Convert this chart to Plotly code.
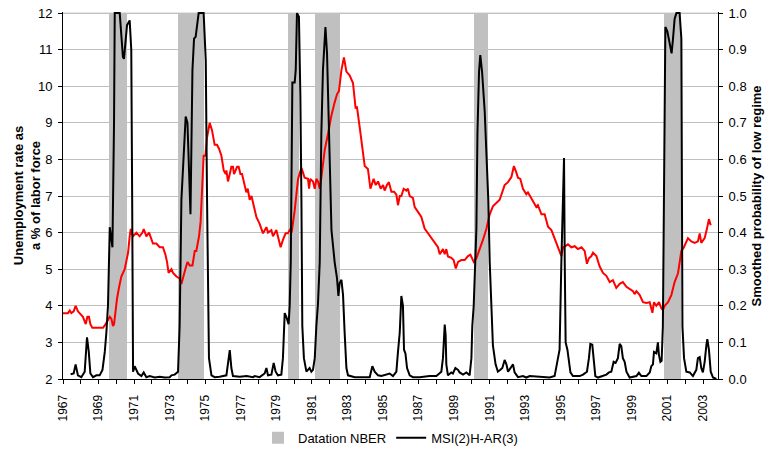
import plotly.graph_objects as go

# ---- data (x = position on the year axis) ----
unemp_year = [1967.00, 1967.28, 1967.38, 1967.47, 1967.60, 1967.71, 1967.84, 1967.94, 1968.03, 1968.12,
              1968.28, 1968.37, 1968.46, 1968.54, 1968.65, 1969.25, 1969.40, 1969.63, 1969.72, 1969.81,
              1969.87, 1969.96, 1970.04, 1970.15, 1970.28, 1970.47, 1970.57, 1970.66, 1970.75, 1970.81,
              1970.94, 1971.13, 1971.31, 1971.47, 1971.54, 1971.69, 1971.84, 1971.97, 1972.06, 1972.25,
              1972.44, 1972.62, 1972.76, 1972.85, 1972.94, 1973.10, 1973.19, 1973.38, 1973.56, 1973.66,
              1973.75, 1973.88, 1974.00, 1974.13, 1974.28, 1974.41, 1974.50, 1974.65, 1974.74, 1974.80,
              1974.91, 1975.01, 1975.10, 1975.25, 1975.38, 1975.53, 1975.66, 1975.77, 1975.91, 1976.04,
              1976.15, 1976.19, 1976.28, 1976.38, 1976.47, 1976.56, 1976.62, 1976.71, 1976.79, 1976.88,
              1976.98, 1977.07, 1977.16, 1977.31, 1977.39, 1977.50, 1977.60, 1977.88, 1978.06, 1978.25,
              1978.44, 1978.53, 1978.72, 1978.81, 1979.00, 1979.24, 1979.37, 1979.52, 1979.65, 1979.75,
              1979.86, 1980.03, 1980.22, 1980.41, 1980.50, 1980.59, 1980.78, 1980.84, 1980.91, 1981.06,
              1981.16, 1981.25, 1981.34, 1981.44, 1981.53, 1981.72, 1981.90, 1982.10, 1982.28, 1982.41,
              1982.52, 1982.66, 1982.80, 1982.94, 1983.12, 1983.31, 1983.46, 1983.53, 1983.69, 1983.87,
              1983.97, 1984.15, 1984.29, 1984.47, 1984.59, 1984.72, 1984.87, 1985.00, 1985.09, 1985.22,
              1985.33, 1985.47, 1985.62, 1985.75, 1985.84, 1985.94, 1986.03, 1986.16, 1986.31, 1986.40,
              1986.50, 1986.68, 1986.78, 1987.06, 1987.16, 1987.34, 1987.53, 1987.72, 1987.90, 1988.09,
              1988.19, 1988.37, 1988.47, 1988.56, 1988.65, 1988.84, 1988.97, 1989.09, 1989.22, 1989.41,
              1989.59, 1989.78, 1989.91, 1990.10, 1990.25, 1990.44, 1990.62, 1990.81, 1991.00, 1991.18,
              1991.37, 1991.56, 1991.84, 1992.03, 1992.22, 1992.36, 1992.50, 1992.59, 1992.72, 1992.87,
              1993.06, 1993.15, 1993.34, 1993.43, 1993.62, 1993.71, 1993.91, 1994.09, 1994.28, 1994.47,
              1994.65, 1994.84, 1995.03, 1995.12, 1995.40, 1995.59, 1995.78, 1995.96, 1996.16, 1996.34,
              1996.47, 1996.58, 1996.72, 1996.81, 1997.00, 1997.18, 1997.37, 1997.56, 1997.75, 1997.93,
              1998.12, 1998.31, 1998.49, 1998.69, 1998.87, 1999.06, 1999.15, 1999.25, 1999.43, 1999.62,
              1999.81, 2000.00, 2000.15, 2000.24, 2000.37, 2000.52, 2000.65, 2000.74, 2000.84, 2001.03,
              2001.22, 2001.40, 2001.59, 2001.78, 2001.91, 2002.06, 2002.15, 2002.34, 2002.53, 2002.71,
              2002.81, 2002.90, 2003.09, 2003.22, 2003.33, 2003.43]
unemp_rate = [3.8, 3.8, 3.87, 3.8, 3.85, 4.0, 3.85, 3.8, 3.75, 3.7,
              3.5, 3.7, 3.7, 3.5, 3.4, 3.4, 3.5, 3.7, 3.65, 3.45,
              3.5, 3.9, 4.2, 4.5, 4.8, 5.0, 5.2, 5.45, 5.9, 6.1,
              5.9, 6.0, 5.9, 6.0, 6.1, 5.9, 6.0, 5.8, 5.7, 5.7,
              5.6, 5.6, 5.4, 5.2, 4.9, 5.0, 4.9, 4.8, 4.75, 4.6,
              4.8, 5.0, 5.2, 5.1, 5.1, 5.5, 5.5, 5.9, 6.3, 7.0,
              8.1, 8.1, 8.6, 9.0, 8.8, 8.4, 8.4, 8.3, 8.1, 7.7,
              7.6, 7.7, 7.4, 7.6, 7.8, 7.8, 7.6, 7.7, 7.8, 7.8,
              7.6, 7.6, 7.4, 7.1, 7.2, 6.9, 7.0, 6.42, 6.24, 5.98,
              6.15, 6.0, 6.07, 5.9, 6.07, 5.6, 5.8, 5.98, 5.98, 6.07,
              6.0, 6.6, 7.47, 7.77, 7.64, 7.5, 7.47, 7.2, 7.47, 7.4,
              7.2, 7.47, 7.4, 7.2, 7.5, 8.26, 8.69, 9.21, 9.56, 9.78,
              9.87, 10.44, 10.79, 10.4, 10.3, 10.09, 9.39, 9.45, 8.87, 8.26,
              7.82, 7.74, 7.2, 7.47, 7.3, 7.4, 7.2, 7.3, 7.15, 7.3,
              7.38, 7.12, 7.12, 7.04, 6.75, 7.0, 7.0, 7.2, 7.15, 7.2,
              7.0, 6.95, 6.7, 6.5, 6.42, 6.11, 5.98, 5.85, 5.72, 5.6,
              5.41, 5.55, 5.41, 5.55, 5.35, 5.31, 5.25, 5.02, 5.2, 5.25,
              5.25, 5.36, 5.4, 5.2, 5.3, 5.55, 5.8, 6.1, 6.5, 6.72,
              6.8, 6.9, 7.3, 7.38, 7.52, 7.82, 7.64, 7.5, 7.47, 7.2,
              7.05, 7.1, 6.94, 6.85, 6.7, 6.75, 6.5, 6.5, 6.16, 6.07,
              5.85, 5.59, 5.36, 5.59, 5.68, 5.6, 5.63, 5.55, 5.6, 5.5,
              5.15, 5.3, 5.36, 5.45, 5.36, 5.08, 4.9, 4.82, 4.65, 4.7,
              4.49, 4.6, 4.65, 4.52, 4.45, 4.4, 4.32, 4.4, 4.3, 4.1,
              4.08, 4.1, 3.81, 4.1, 4.0, 4.1, 3.94, 3.88, 4.0, 4.1,
              4.3, 4.65, 4.89, 5.5, 5.59, 5.76, 5.85, 5.76, 5.72, 5.76,
              5.98, 5.72, 5.85, 6.11, 6.37, 6.2]

prob_year = [1967.43, 1967.60, 1967.71, 1967.84, 1968.03, 1968.22, 1968.35, 1968.45, 1968.54, 1968.69,
             1968.88, 1969.06, 1969.22, 1969.35, 1969.44, 1969.53, 1969.63, 1969.72, 1969.78, 1969.87,
             1969.91, 1970.19, 1970.37, 1970.43, 1970.60, 1970.75, 1970.84, 1970.89, 1970.94, 1971.03,
             1971.22, 1971.41, 1971.54, 1971.69, 1971.88, 1972.16, 1972.44, 1972.72, 1973.00, 1973.10,
             1973.28, 1973.47, 1973.56, 1973.66, 1973.84, 1973.90, 1974.00, 1974.09, 1974.17, 1974.28,
             1974.37, 1974.46, 1974.54, 1974.63, 1974.91, 1975.03, 1975.10, 1975.21, 1975.35, 1975.53,
             1975.81, 1976.19, 1976.38, 1976.47, 1976.56, 1976.94, 1977.33, 1977.69, 1977.78, 1978.06,
             1978.34, 1978.44, 1978.53, 1978.72, 1978.85, 1978.96, 1979.09, 1979.28, 1979.37, 1979.47,
             1979.56, 1979.69, 1979.75, 1979.81, 1979.90, 1980.03, 1980.09, 1980.16, 1980.27, 1980.35,
             1980.41, 1980.46, 1980.55, 1980.69, 1980.87, 1980.97, 1981.06, 1981.16, 1981.25, 1981.34,
             1981.44, 1981.53, 1981.62, 1981.76, 1981.85, 1981.94, 1982.04, 1982.10, 1982.28, 1982.41,
             1982.49, 1982.56, 1982.66, 1982.75, 1982.84, 1982.94, 1983.03, 1983.41, 1984.25, 1984.40,
             1984.53, 1984.72, 1984.91, 1985.19, 1985.37, 1985.56, 1985.75, 1985.84, 1985.94, 1986.03,
             1986.12, 1986.18, 1986.26, 1986.35, 1986.50, 1986.68, 1987.06, 1987.62, 1988.00, 1988.28,
             1988.37, 1988.47, 1988.52, 1988.56, 1988.65, 1988.84, 1988.93, 1989.07, 1989.22, 1989.31,
             1989.50, 1989.69, 1989.87, 1989.97, 1990.02, 1990.10, 1990.17, 1990.25, 1990.31, 1990.40,
             1990.47, 1990.57, 1990.72, 1990.85, 1990.92, 1991.00, 1991.09, 1991.18, 1991.33, 1991.46,
             1991.60, 1991.71, 1991.84, 1991.94, 1992.03, 1992.22, 1992.31, 1992.40, 1992.59, 1992.87,
             1993.06, 1993.25, 1993.81, 1994.37, 1994.65, 1994.84, 1994.93, 1995.03, 1995.18, 1995.22,
             1995.27, 1995.37, 1995.46, 1995.54, 1995.68, 1996.06, 1996.25, 1996.47, 1996.58, 1996.66,
             1996.77, 1996.86, 1996.94, 1997.09, 1997.37, 1997.56, 1997.71, 1997.84, 1997.97, 1998.08,
             1998.21, 1998.31, 1998.40, 1998.49, 1998.59, 1998.69, 1998.87, 1999.25, 1999.39, 1999.53,
             1999.81, 2000.00, 2000.09, 2000.18, 2000.24, 2000.37, 2000.46, 2000.52, 2000.60, 2000.67,
             2000.74, 2000.84, 2000.88, 2000.99, 2001.12, 2001.23, 2001.31, 2001.40, 2001.50, 2001.68,
             2001.78, 2001.84, 2001.93, 2002.06, 2002.25, 2002.43, 2002.62, 2002.71, 2002.81, 2002.90,
             2002.99, 2003.09, 2003.19, 2003.24, 2003.33, 2003.43, 2003.56, 2003.75]
prob_low = [0.013, 0.015, 0.04, 0.01, 0.005, 0.02, 0.114, 0.074, 0.015, 0.005,
            0.01, 0.01, 0.025, 0.074, 0.127, 0.2, 0.415, 0.37, 0.36, 0.7,
            1.0, 1.0, 0.88, 0.875, 0.967, 0.98, 0.9, 0.5, 0.02, 0.035,
            0.015, 0.008, 0.018, 0.005, 0.008, 0.004, 0.006, 0.004, 0.005, 0.01,
            0.012, 0.02, 0.145, 0.49, 0.695, 0.717, 0.70, 0.58, 0.45, 0.844,
            0.93, 0.935, 0.97, 1.0, 1.0, 0.87, 0.5, 0.057, 0.01, 0.005,
            0.006, 0.01, 0.079, 0.03, 0.008, 0.006, 0.008, 0.005, 0.008, 0.005,
            0.015, 0.03, 0.01, 0.012, 0.044, 0.02, 0.01, 0.012, 0.057, 0.18,
            0.17, 0.15, 0.2, 0.32, 0.81, 0.81, 0.844, 1.0, 0.99, 0.774,
            0.49, 0.145, 0.057, 0.02, 0.03, 0.02, 0.025, 0.057, 0.145, 0.205,
            0.32, 0.67, 0.844, 0.962, 0.89, 0.713, 0.49, 0.407, 0.319, 0.276,
            0.227, 0.262, 0.271, 0.23, 0.127, 0.03, 0.01, 0.005, 0.005, 0.035,
            0.02, 0.01, 0.008, 0.012, 0.015, 0.008, 0.02, 0.074, 0.127, 0.227,
            0.2, 0.08, 0.07, 0.03, 0.01, 0.005, 0.005, 0.008, 0.008, 0.02,
            0.057, 0.149, 0.12, 0.04, 0.01, 0.018, 0.015, 0.03, 0.025, 0.018,
            0.012, 0.018, 0.01, 0.057, 0.145, 0.2, 0.32, 0.41, 0.67, 0.84,
            0.885, 0.84, 0.73, 0.58, 0.49, 0.32, 0.188, 0.092, 0.04, 0.02,
            0.025, 0.03, 0.052, 0.04, 0.02, 0.035, 0.04, 0.018, 0.005, 0.008,
            0.004, 0.008, 0.006, 0.004, 0.008, 0.057, 0.08, 0.32, 0.604, 0.32,
            0.10, 0.08, 0.047, 0.018, 0.008, 0.008, 0.012, 0.02, 0.057, 0.096,
            0.094, 0.057, 0.008, 0.004, 0.008, 0.012, 0.018, 0.02, 0.047, 0.044,
            0.057, 0.096, 0.09, 0.057, 0.047, 0.02, 0.004, 0.008, 0.017, 0.008,
            0.008, 0.018, 0.035, 0.04, 0.074, 0.07, 0.1, 0.065, 0.047, 0.05,
            0.145, 0.6, 0.962, 0.95, 0.92, 0.89, 0.93, 0.984, 1.0, 1.0,
            0.93, 0.144, 0.057, 0.02, 0.018, 0.008, 0.025, 0.057, 0.06, 0.03,
            0.018, 0.047, 0.094, 0.109, 0.08, 0.02, 0.004, 0.0]

nber_start = [1969.59, 1973.47, 1979.65, 1981.16, 1990.10, 2000.80]
nber_end = [1970.58, 1974.91, 1980.26, 1982.56, 1990.88, 2001.78]

left_ticks = list(range(2, 13))
right_ticks = [0.0, 0.1, 0.2, 0.3, 0.4, 0.5, 0.6, 0.7, 0.8, 0.9, 1.0]

FONT = "Liberation Sans, Arial, sans-serif"

fig = go.Figure()

fig.add_trace(go.Bar(
    x=[(s + e) / 2 for s, e in zip(nber_start, nber_end)],
    width=[e - s for s, e in zip(nber_start, nber_end)],
    y=[10] * len(nber_start), base=2,
    marker=dict(color="#C0C0C0", line=dict(width=0)),
    name="Datation NBER", yaxis="y", hoverinfo="skip",
))
fig.add_trace(go.Scatter(
    x=unemp_year, y=unemp_rate, mode="lines",
    line=dict(color="#FF0000", width=2), name="Unemployment rate",
    showlegend=False, yaxis="y",
))
fig.add_trace(go.Scatter(
    x=prob_year, y=prob_low, mode="lines",
    line=dict(color="#000000", width=2), name="MSI(2)H-AR(3)", yaxis="y2",
))

fig.update_layout(
    width=765, height=459,
    margin=dict(l=63, r=47, t=6, b=71),
    paper_bgcolor="white", plot_bgcolor="white",
    font=dict(family=FONT, size=13, color="black"),
    showlegend=True,
    legend=dict(orientation="h", x=0.5, xanchor="center", y=-0.16, yanchor="middle",
                font=dict(size=13), bgcolor="rgba(0,0,0,0)", itemwidth=30),
    bargap=0,
    xaxis=dict(
        range=[1967, 2003.84], tick0=1967, dtick=2, tickangle=-90,
        ticks="outside", ticklen=4, tickcolor="black", ticklabelstandoff=6,
        showline=True, linecolor="black", linewidth=1,
        showgrid=False, zeroline=False,
        minor=dict(tick0=1967, dtick=1, ticks="outside", ticklen=4, tickcolor="black", showgrid=False),
        tickfont=dict(size=12),
    ),
    yaxis=dict(
        range=[2, 12.03], tickmode="array", tickvals=left_ticks,
        ticks="outside", ticklen=4, tickcolor="black", ticklabelstandoff=3,
        ticklabeloverflow="allow",
        showline=True, linecolor="black", linewidth=1,
        showgrid=True, gridcolor="#C0C0C0", gridwidth=1, zeroline=False,
        tickfont=dict(size=13),
    ),
    yaxis2=dict(
        range=[0, 1.003], tickmode="array", tickvals=right_ticks, tickformat=".1f",
        overlaying="y", side="right",
        ticks="outside", ticklen=4, tickcolor="black", ticklabelstandoff=3,
        ticklabeloverflow="allow",
        showline=True, linecolor="black", linewidth=1,
        showgrid=False, zeroline=False,
        tickfont=dict(size=13),
    ),
    shapes=[dict(type="line", xref="paper", x0=0, x1=1, yref="y", y0=left_ticks[-1], y1=left_ticks[-1],
                 line=dict(color="#C0C0C0", width=1), layer="below")],
    annotations=[
        dict(text="<b>Unemployment rate as<br>a % of labor force</b>", textangle=-90,
             xref="paper", yref="paper", x=-0.0555, y=0.5, xanchor="center", yanchor="middle",
             showarrow=False, font=dict(size=13)),
        dict(text="<b>Smoothed probability of low regime</b>", textangle=-90,
             xref="paper", yref="paper", x=1.0595, y=0.5, xanchor="center", yanchor="middle",
             showarrow=False, font=dict(size=13)),
    ],
)

fig.write_html("out.html")
